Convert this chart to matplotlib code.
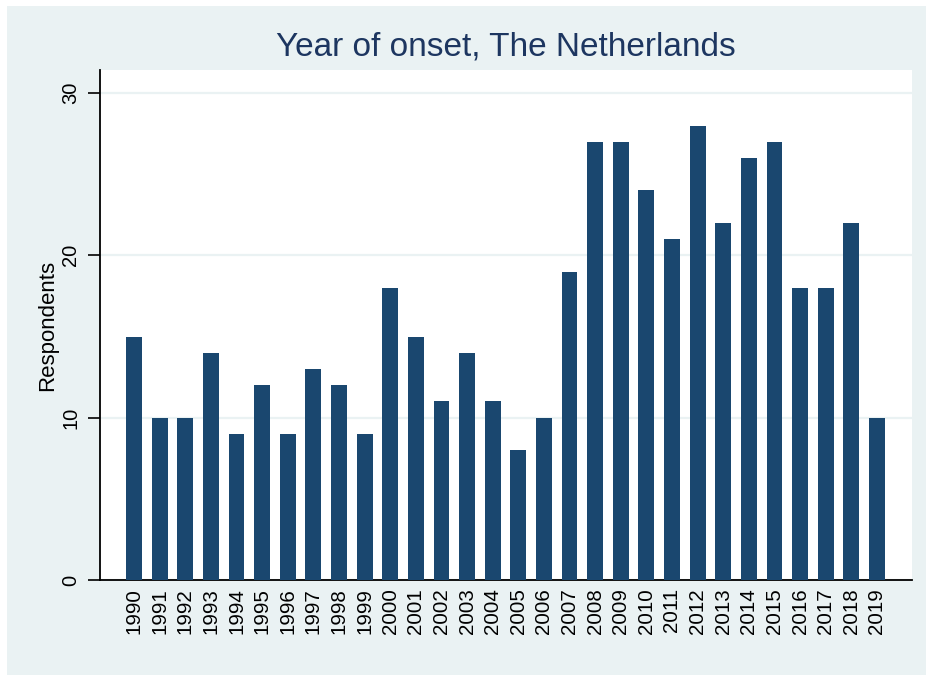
import matplotlib
matplotlib.use("Agg")
import matplotlib.pyplot as plt
from matplotlib.patches import Rectangle

years = [str(y) for y in range(1990, 2020)]
respondents = [15, 10, 10, 14, 9, 12, 9, 13, 12, 9,
               18, 15, 11, 14, 11, 8, 10, 19, 27, 27,
               24, 21, 28, 22, 26, 27, 18, 18, 22, 10]
yticks = [0, 10, 20, 30]

navy = "#1A476F"
title_col = "#1d3660"
bg = "#EAF2F3"

plt.rcParams['font.family'] = ['Liberation Sans', 'DejaVu Sans']

fig = plt.figure(figsize=(9.26, 6.75), dpi=100, facecolor=bg)
# thin white strips at top and left edge
fig.patches.append(Rectangle((0, 0), 7/926, 1, transform=fig.transFigure,
                             facecolor="white", edgecolor="none", zorder=-10))
fig.patches.append(Rectangle((0, 1 - 6/675), 1, 6/675, transform=fig.transFigure,
                             facecolor="white", edgecolor="none", zorder=-10))
ax = fig.add_axes([99.5/926, (675-580)/675, (912-99.5)/926, (580-70)/675])
ax.set_facecolor("white")

x = list(range(len(years)))
ax.bar(x, respondents, width=0.62, color=navy, zorder=3)
ax.set_xlim(-1.35, len(years) - 1 + 1.37)
ax.set_ylim(0, 31.42)
ax.set_yticks(yticks)
ax.set_yticklabels([str(t) for t in yticks], rotation=90, va="center", fontsize=14.5)
ax.set_xticks(x)
ax.set_xticklabels(years, rotation=90, fontsize=14.8)
ax.tick_params(axis="x", length=0, pad=6)
ax.tick_params(axis="y", length=9, width=1.2, pad=5)
for t in yticks:
    ax.axhline(t, color=bg, lw=1.6, zorder=1)
for s in ["top", "right"]:
    ax.spines[s].set_visible(False)
for s in ["left", "bottom"]:
    ax.spines[s].set_linewidth(1.3)
    ax.spines[s].set_color("black")
ax.set_ylabel("Respondents", fontsize=16, labelpad=2)
fig.text((99.5+912)/2/926, 1 - 47/675, "Year of onset, The Netherlands",
         ha="center", va="center", fontsize=24, color=title_col)
fig.savefig("out.png", dpi=100, facecolor=bg)
